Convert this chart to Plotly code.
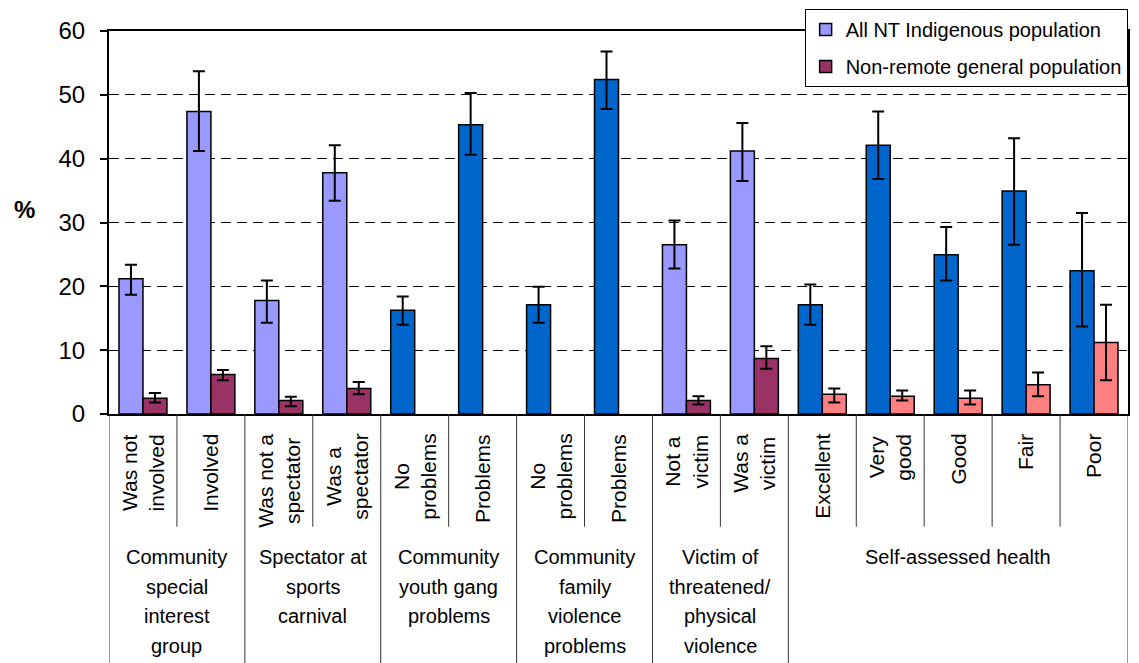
import plotly.graph_objects as go

# ---------------- data ----------------
x_pos = list(range(15))
cat_labels = ["Was not<br>involved", "Involved", "Was not a<br>spectator", "Was a<br>spectator",
              "No<br>problems", "Problems", "No<br>problems", "Problems",
              "Not a<br>victim", "Was a<br>victim",
              "Excellent", "Very<br>good", "Good", "Fair", "Poor"]
group_labels = [["Community", "special", "interest", "group"],
                ["Spectator at", "sports", "carnival"],
                ["Community", "youth gang", "problems"],
                ["Community", "family", "violence", "problems"],
                ["Victim of", "threatened/", "physical", "violence"],
                ["Self-assessed health"]]
group_spans = [(0, 1), (2, 3), (4, 5), (6, 7), (8, 9), (10, 14)]

indig = [21.2, 47.4, 17.8, 37.8, 16.25, 45.3, 17.1, 52.4, 26.5, 41.2, 17.1, 42.1, 24.95, 34.95, 22.45]
indig_hi = [23.4, 53.7, 20.9, 42.1, 18.4, 50.3, 19.95, 56.8, 30.3, 45.6, 20.3, 47.4, 29.3, 43.2, 31.5]
indig_lo = [18.7, 41.2, 14.3, 33.4, 14.0, 40.6, 14.3, 47.8, 22.8, 36.5, 14.0, 36.8, 20.9, 26.5, 13.7]

gen = [2.45, 6.2, 2.1, 4.0, None, None, None, None, 2.1, 8.7, 3.1, 2.8, 2.45, 4.6, 11.2]
gen_hi = [3.3, 6.9, 2.7, 5.0, None, None, None, None, 2.8, 10.6, 4.0, 3.7, 3.7, 6.5, 17.1]
gen_lo = [1.8, 5.3, 1.2, 3.1, None, None, None, None, 1.5, 7.1, 1.8, 2.1, 1.5, 2.8, 5.3]

y_ticks = [0, 10, 20, 30, 40, 50, 60]

# ---------------- styles ----------------
PURPLE, BLUE, MAROON, SALMON = "#9999FF", "#0066CC", "#993366", "#FF8080"
kind = ["c", "c", "c", "c", "i", "i", "i", "i", "c", "c", "h", "h", "h", "h", "h"]
indig_colors = [PURPLE if k == "c" else BLUE for k in kind]
gen_colors = [MAROON if k == "c" else SALMON for k in kind]
FONT = "Liberation Sans, Arial, sans-serif"

# plot-area geometry in pixels
W, H = 1139, 663
L, R, T, B = 109, 1130, 30, 414
PH = B - T


def py(px):
    """pixel y -> paper y"""
    return (B - px) / PH


def px_to_paper_x(px):
    return (px - L) / (R - L)


def err(vals, hi, lo):
    up = [None if v is None else h - v for v, h in zip(vals, hi)]
    dn = [None if v is None else v - l for v, l in zip(vals, lo)]
    return up, dn


iu, idn = err(indig, indig_hi, indig_lo)
gu, gdn = err(gen, gen_hi, gen_lo)

fig = go.Figure()
fig.add_trace(go.Bar(
    x=x_pos, y=indig, name="All NT Indigenous population", legendgroup="a",
    marker=dict(color=indig_colors, line=dict(color="black", width=1.5)),
    error_y=dict(type="data", array=iu, arrayminus=idn, color="black", thickness=2, width=6),
))
fig.add_trace(go.Bar(
    x=x_pos, y=gen, name="Non-remote general population", legendgroup="b",
    marker=dict(color=gen_colors, line=dict(color="black", width=1.5)),
    error_y=dict(type="data", array=gu, arrayminus=gdn, color="black", thickness=2, width=6),
))

shapes = []
annotations = []
group_edges = set()
for a, b in group_spans:
    group_edges.add(a - 0.5)
    group_edges.add(b + 0.5)
for i in range(16):
    xb = i - 0.5
    y1 = py(H + 2) if xb in group_edges else py(527)
    shapes.append(dict(type="line", xref="x", yref="paper", x0=xb, x1=xb, y0=0, y1=y1,
                       line=dict(color="#333333", width=1)))

for i, lab in enumerate(cat_labels):
    annotations.append(dict(x=x_pos[i], y=py(432), xref="x", yref="paper", text=lab,
                            textangle=-90, showarrow=False, xanchor="center", yanchor="top",
                            align="center", font=dict(family=FONT, size=21, color="black")))

for (a, b), lines in zip(group_spans, group_labels):
    cx = (a + b) / 2
    for k, line in enumerate(lines):
        annotations.append(dict(x=cx, y=py(557 + 30 * k), xref="x", yref="paper", text=line,
                                showarrow=False, xanchor="center", yanchor="middle",
                                font=dict(family=FONT, size=20, color="black")))

annotations.append(dict(x=px_to_paper_x(24), y=py(209), xref="paper", yref="paper", text="<b>%</b>",
                        showarrow=False, xanchor="center", yanchor="middle",
                        font=dict(family=FONT, size=24, color="black")))

fig.update_layout(
    width=W, height=H, autosize=False,
    margin=dict(l=L, r=W - R, t=T, b=H - B, pad=0),
    paper_bgcolor="white", plot_bgcolor="white",
    barmode="group", bargap=0.294, bargroupgap=0,
    font=dict(family=FONT, color="black"),
    showlegend=True,
    legend=dict(x=px_to_paper_x(806), y=py(8), xanchor="left", yanchor="top",
                bgcolor="white", bordercolor="black", borderwidth=1,
                font=dict(family=FONT, size=20, color="black"),
                traceorder="grouped", tracegroupgap=8),
    shapes=shapes, annotations=annotations,
)
fig.update_xaxes(range=[-0.5, 14.5], showticklabels=False, showgrid=False, zeroline=False,
                 showline=True, linecolor="black", linewidth=2, mirror=True, ticks="")
fig.update_yaxes(range=[0, 60], tickvals=y_ticks, showgrid=True, gridcolor="black", gridwidth=1,
                 griddash="10px,6px", zeroline=False, showline=True, linecolor="black",
                 linewidth=2, mirror=True, ticks="outside", ticklen=7, tickwidth=1.5,
                 tickcolor="black", ticklabelstandoff=10,
                 tickfont=dict(family=FONT, size=24, color="black"))

fig.write_html("out.html")
